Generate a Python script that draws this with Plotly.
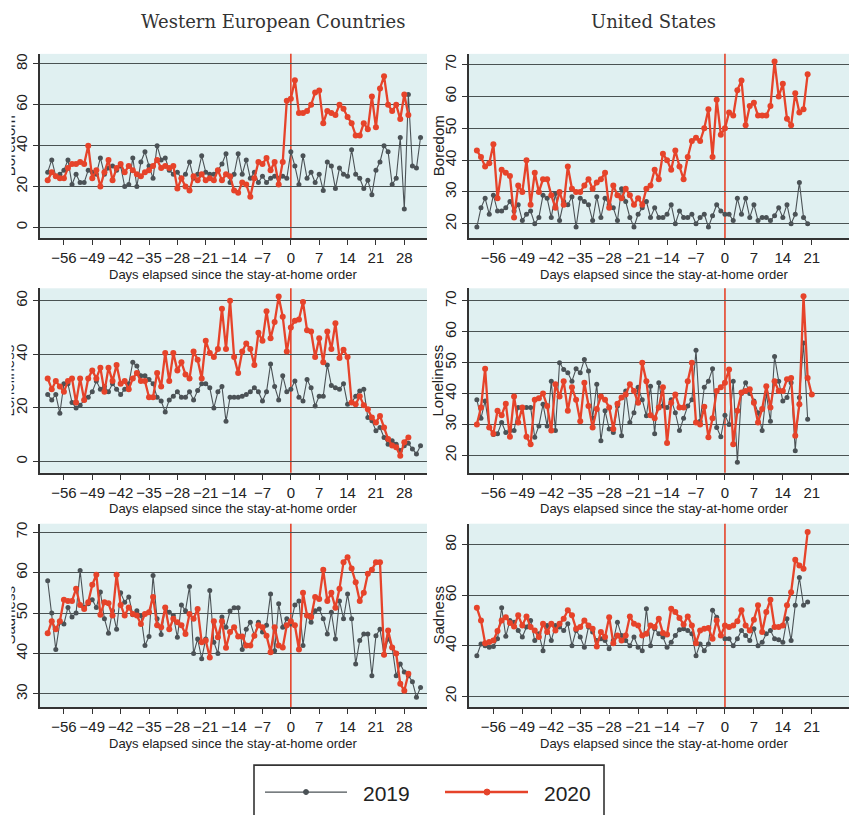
import plotly.graph_objects as go

# ---------------- data ----------------
days_we_2019 = list(range(-60, 33))
days_we_2020 = list(range(-60, 30))
days_us = list(range(-60, 21))
days_us_lonely_2020 = list(range(-60, 22))

we_boredom_2019 = [27, 33, 25, 26, 28, 33, 21, 26, 22, 22,
                   28, 27, 26, 34, 26, 29, 30, 28, 30, 20,
                   21, 34, 20, 32, 37, 30, 24, 40, 33, 34,
                   28, 26, 27, 24, 26, 32, 24, 26, 35, 27,
                   26, 26, 28, 31, 36, 22, 26, 36, 26, 33,
                   24, 27, 22, 25, 22, 24, 25, 24, 25, 24,
                   37, 30, 21, 35, 24, 27, 22, 26, 18, 32,
                   30, 19, 29, 26, 25, 38, 26, 24, 19, 23,
                   16, 28, 32, 40, 37, 21, 24, 44, 9, 65,
                   30, 29, 44]
we_boredom_2020 = [23, 27, 25, 24, 24, 29, 31, 31, 32, 31,
                   40, 24, 28, 20, 27, 33, 23, 29, 31, 27,
                   30, 28, 26, 25, 27, 28, 30, 33, 29, 30,
                   29, 30, 19, 24, 20, 18, 25, 23, 26, 23,
                   24, 23, 28, 23, 26, 25, 18, 17, 22, 21,
                   15, 24, 32, 31, 34, 28, 32, 21, 32, 62,
                   63, 72, 56, 56, 57, 60, 66, 67, 51, 57,
                   56, 55, 60, 58, 54, 51, 45, 45, 51, 48,
                   64, 49, 68, 74, 60, 57, 60, 53, 65, 55]

us_boredom_2019 = [19, 25, 28, 23, 29, 24, 24, 25, 27, 24,
                   26, 21, 23, 24, 20, 22, 29, 28, 22, 29.5,
                   21, 27, 26, 28.5, 19, 28, 27, 26, 21, 28.5,
                   22, 28, 26, 25, 21, 31, 27, 22, 19, 23,
                   25, 27, 22, 25, 22, 22, 23, 26, 20, 24,
                   22, 22, 23, 20, 22, 23, 19, 22.5, 26, 24,
                   23, 23, 21, 28, 23, 28, 22, 26, 21, 22,
                   22, 21, 22.5, 25, 22, 26, 20, 23, 33, 22,
                   20]
us_boredom_2020 = [43, 41, 38, 39, 45, 28, 37, 36, 35, 22,
                   32, 30, 40, 26, 36, 30, 34, 34, 29, 25,
                   30, 26, 38, 31, 30, 30, 32, 34, 31, 33,
                   34, 36, 25, 32, 29, 28, 31, 29, 26, 28,
                   26, 31, 32, 37, 34, 42, 40, 37, 43, 38,
                   34, 41, 46, 47, 46, 50, 56, 41, 59, 48,
                   50, 55, 54, 62, 65, 51, 57, 58, 54, 54,
                   54, 57, 71, 60, 64, 53, 51, 61, 55, 56,
                   67]

we_lonely_2019 = [25, 23, 25, 18, 29, 29, 22, 20, 21, 23,
                  24, 26, 30, 27, 28, 26, 29, 27, 25, 27,
                  29, 37, 35.6, 32, 32, 30.6, 29, 24, 22.6, 18.5,
                  23, 24.4, 26, 24, 24, 26, 23, 26.5, 29, 29,
                  27.5, 20, 26, 28, 15, 24, 24, 24, 24.4, 25,
                  26, 27.5, 26, 22.6, 26, 36.4, 28, 23, 32, 26,
                  27, 30, 24, 22.6, 30.6, 27.5, 20.7, 24.4, 24.4, 36,
                  28.4, 27.5, 27, 29, 21.4, 22, 24.4, 26.3, 27, 16.4,
                  15.2, 11.5, 12.7, 9, 6.5, 7.8, 6.5, 4.1, 5.9, 6.8,
                  4.7, 2.8, 5.9]
we_lonely_2020 = [31, 27, 30, 28, 26, 30, 31, 22, 31, 23,
                  31, 34, 31, 35, 26, 35, 30, 36, 29, 30,
                  27, 31, 33, 30, 30, 24, 24, 33, 28, 40.5,
                  30, 40.5, 34, 37, 32.5, 31, 41, 38, 31, 45,
                  40.5, 39, 42, 57, 42, 60, 39, 33, 41, 44,
                  42, 36, 48, 45, 56, 46, 52, 61.5, 54, 41,
                  50, 52.5, 53, 59.5, 49, 48.5, 39, 46, 37, 48.5,
                  42, 51.6, 38.6, 41.7, 39, 22, 21.4, 24.4, 21, 19.5,
                  16.4, 14.6, 17, 12.7, 8.4, 6, 5.3, 2.2, 7.2, 9]

us_lonely_2019 = [38, 32, 37.6, 29, 26.7, 27, 30.6, 27.4, 28, 28,
                  35.5, 35.5, 35.5, 35.5, 25.8, 29.5, 36.5, 29.5, 44, 28,
                  50, 47.8, 46.7, 44, 48, 46.7, 51, 47.3, 32, 43,
                  24.7, 34.4, 28.5, 27.4, 36, 26.3, 40.8, 30.6, 33.8, 42,
                  38, 32.8, 42.4, 27, 43.5, 36, 35.5, 38, 33.8, 28,
                  32, 36, 38, 54, 31, 42, 44, 48, 29, 26,
                  33, 30, 44, 17.7, 40, 43.5, 40, 37.6, 33.8, 28,
                  40, 31, 52, 44, 37.6, 38.7, 43.5, 21.5, 38.7, 56.4,
                  31.7]
us_lonely_2020 = [30, 35.5, 48, 29, 27, 34.4, 33, 36.7, 26, 39,
                  30.6, 35.5, 26, 23.6, 38, 38.5, 40, 36, 28, 43,
                  39, 44, 34.4, 42, 38, 31, 43.5, 36, 29, 35,
                  39, 38, 35.5, 28.5, 36.7, 38.7, 39.7, 43, 40.8, 37,
                  50, 44, 33, 32, 35.5, 42, 24, 37, 39.7, 35.5,
                  35.5, 44, 50, 30.6, 30, 35.7, 25.8, 32, 40.8, 42,
                  43.5, 47.8, 23.6, 34.4, 40.3, 40.8, 41.4, 37, 30.6, 35,
                  42.4, 35.5, 44, 40.8, 40.8, 44.6, 45, 26.3, 36.5, 71.5,
                  45, 39.7]

we_sad_2019 = [58, 50, 41, 47.7, 47.3, 51.4, 49, 50, 60.5, 51.4,
               52.3, 53.3, 51.4, 55.2, 48.6, 45, 50.6, 46, 55, 52.7,
               54, 49.6, 50.6, 49.4, 42, 44.2, 59.3, 48.6, 44.7, 51.4,
               50.2, 49.4, 44, 52, 50.6, 56.6, 40, 43.6, 38.7, 43.6,
               55.6, 42.8, 40, 49, 46.5, 50.5, 51.3, 51.3, 41, 46,
               47.7, 44.4, 47.7, 45.3, 47, 54.7, 40.7, 52.3, 46.5, 48.6,
               47.3, 52, 53, 42, 49.4, 47.7, 50.6, 51, 48.6, 44.8,
               50.2, 43.6, 53, 48.6, 54.7, 48.6, 37.4, 43.2, 44.8, 44.8,
               34.5, 44.4, 46, 39.7, 43.6, 41.5, 34.5, 37.4, 35.4, 34.5,
               33, 29.2, 31.6]
we_sad_2020 = [45, 48, 46, 48, 53.3, 53, 53, 56, 52, 51,
               52.7, 57, 59.5, 49.6, 52.7, 52.4, 49.4, 59.5, 52, 49.4,
               51.4, 49.8, 49.4, 47.3, 49.8, 50.2, 54, 47, 46.5, 51.4,
               46, 48.6, 47.7, 47, 44.8, 49.8, 48.6, 51, 42.8, 43.2,
               39, 48, 44, 48, 41.4, 45.3, 46.5, 44.2, 44.2, 42,
               42, 44.4, 47, 46.5, 44.4, 40.3, 46.5, 42, 41.5, 47,
               48, 47, 41, 55, 49.4, 49, 54, 53.5, 60.7, 53,
               55, 51.3, 56, 62.6, 63.8, 61, 57.6, 53, 55, 59.7,
               60.7, 62.6, 62.6, 39.7, 45.7, 41.5, 40, 32.5, 30.8, 35]

us_sad_2019 = [36, 40.7, 40, 39.4, 39.7, 42.7, 55, 43.7, 50, 49.3,
               46, 43.4, 47.4, 50, 42, 44.7, 38, 48, 42, 48,
               47.4, 46, 48.7, 40, 46, 43.4, 39.4, 47.4, 45.4, 42,
               42.7, 42, 38.8, 42, 49.3, 44, 42, 40, 43.4, 39.4,
               38, 54.6, 40, 46.7, 44.7, 43.4, 39.4, 41.4, 44, 46.3,
               46.7, 46, 44.7, 36, 40.7, 38, 40.7, 54, 51.3, 44,
               42.7, 42.7, 40, 42.7, 46, 44, 42, 46.7, 40, 41.4,
               44.7, 46, 42.7, 42.3, 41.4, 50.7, 42, 56, 67, 56,
               57.3]
us_sad_2020 = [55, 50, 41, 41.5, 42, 45.8, 50, 51.3, 49, 47.6,
               52, 48, 51.6, 47.4, 46, 43.4, 48.7, 45.4, 48.7, 46,
               48.7, 50.7, 54, 52, 46.7, 47.4, 50, 48, 46.7, 39.7,
               45.4, 43.4, 51.3, 41, 44, 42, 44, 51.6, 48.7, 48,
               44, 44.7, 48, 47.4, 50.7, 45, 44.4, 54.6, 53.3, 51,
               48.4, 51.6, 48, 41, 46, 46.7, 47, 42.7, 50, 44,
               48, 47.4, 48, 49.7, 54, 48, 46, 50.3, 56, 45.4,
               53.3, 58.2, 47.4, 47.4, 48, 56, 61.2, 74, 71.8, 70.5,
               85]

x_ticks_we = [-56, -49, -42, -35, -28, -21, -14, -7, 0, 7, 14, 21, 28]
x_ticks_us = [-56, -49, -42, -35, -28, -21, -14, -7, 0, 7, 14, 21]
col_titles = ["Western European Countries", "United States"]
y_titles = ["Boredom", "Loneliness", "Sadness"]
x_title = "Days elapsed since the stay-at-home order"
legend_labels = ["2019", "2020"]

# ---------------- styling / layout ----------------
W, H = 849, 815
RED = "#e6432a"
GRAY = "#4b5256"
BG = "#e0f0f1"
GRID = "#4a5353"
AXC = "#333333"
SANS = "Liberation Sans, Arial, sans-serif"


def px(x):
    return x / W


def py(y):
    return 1 - y / H


col_x = [(40, 427), (469, 849)]
row_y = [(52, 237), (287, 472), (523, 707)]
x_ranges = [[-61.9, 33.6], [-61.9, 30.0]]

panels = [
    # row, col, days2019, vals2019, days2020, vals2020, yrange, yticks
    (0, 0, days_we_2019, we_boredom_2019, days_we_2020, we_boredom_2020, [-5.4, 84.9], [0, 20, 40, 60, 80]),
    (0, 1, days_us, us_boredom_2019, days_us, us_boredom_2020, [15.4, 73.4], [20, 30, 40, 50, 60, 70]),
    (1, 0, days_we_2019, we_lonely_2019, days_we_2020, we_lonely_2020, [-4.2, 64.6], [0, 20, 40, 60]),
    (1, 1, days_us, us_lonely_2019, days_us_lonely_2020, us_lonely_2020, [14.3, 74.1], [20, 30, 40, 50, 60, 70]),
    (2, 0, days_we_2019, we_sad_2019, days_we_2020, we_sad_2020, [26.7, 72.1], [30, 40, 50, 60, 70]),
    (2, 1, days_us, us_sad_2019, days_us, us_sad_2020, [15.6, 88.3], [20, 40, 60, 80]),
]

fig = go.Figure()
layout = dict(
    width=W, height=H,
    margin=dict(l=0, r=0, t=0, b=0),
    paper_bgcolor="white", plot_bgcolor=BG,
    showlegend=False,
)
annotations = []
shapes = []
covers = []

for i, (r, c, d19, v19, d20, v20, yr, yt) in enumerate(panels):
    n = i + 1
    xa = "x" if n == 1 else f"x{n}"
    ya = "y" if n == 1 else f"y{n}"
    xkey = "xaxis" if n == 1 else f"xaxis{n}"
    ykey = "yaxis" if n == 1 else f"yaxis{n}"
    x0, x1 = col_x[c]
    y0, y1 = row_y[r]
    layout[xkey] = dict(
        domain=[px(x0), px(x1)], range=x_ranges[c], anchor=ya,
        tickvals=x_ticks_we if c == 0 else x_ticks_us, tickangle=0,
        ticks="outside", ticklen=5, tickwidth=1.2, tickcolor=AXC,
        showline=True, linecolor=AXC, linewidth=1.6,
        showgrid=False, zeroline=False,
        tickfont=dict(family=SANS, size=15, color="#222"),
    )
    layout[ykey] = dict(
        domain=[py(y1), py(y0)], range=yr, anchor=xa,
        tickvals=yt, tickangle=-90,
        ticks="outside", ticklen=5, tickwidth=1.2, tickcolor=AXC,
        showline=True, linecolor=AXC, linewidth=1.6,
        showgrid=True, gridcolor=GRID, gridwidth=1.3, zeroline=False,
        tickfont=dict(family=SANS, size=15, color="#222"),
    )
    fig.add_trace(go.Scatter(
        x=d19, y=v19, xaxis=xa, yaxis=ya, mode="lines+markers", name="2019",
        line=dict(color=GRAY, width=1.1), marker=dict(color=GRAY, size=5),
    ))
    fig.add_trace(go.Scatter(
        x=d20, y=v20, xaxis=xa, yaxis=ya, mode="lines+markers", name="2020",
        line=dict(color=RED, width=2.3), marker=dict(color=RED, size=6),
    ))
    # stay-at-home order reference line at day 0
    shapes.append(dict(type="line", xref=xa, yref=f"{ya} domain", x0=0, x1=0, y0=0, y1=1,
                       line=dict(color=RED, width=1.6), layer="below"))
    # x axis title
    annotations.append(dict(text=x_title, xref="paper", yref="paper",
                            x=px((x0 + x1) / 2 if c == 0 else 664), y=py(y1 + 36),
                            xanchor="center", yanchor="middle", showarrow=False,
                            font=dict(family=SANS, size=13, color="#222")))
    # y axis title
    annotations.append(dict(text=y_titles[r], xref="paper", yref="paper",
                            x=px(x0 - 31), y=py((y0 + y1) / 2), textangle=-90,
                            xanchor="center", yanchor="middle", showarrow=False,
                            font=dict(family=SANS, size=15, color="#222")))
    if c == 0:
        # the reference image is cropped through the left-column y titles
        covers.append(dict(text=" ", xref="paper", yref="paper", x=0, y=py((y0 + y1) / 2),
                           xanchor="left", yanchor="middle", showarrow=False,
                           width=10, height=120, bgcolor="white", borderpad=0,
                           font=dict(size=2)))

# column titles
annotations.append(dict(text=col_titles[0], xref="paper", yref="paper", x=px(273), y=py(20),
                        xanchor="center", yanchor="middle", showarrow=False,
                        font=dict(family="DejaVu Serif", size=18, color="#333")))
annotations.append(dict(text=col_titles[1], xref="paper", yref="paper", x=px(653), y=py(20),
                        xanchor="center", yanchor="middle", showarrow=False,
                        font=dict(family="DejaVu Serif", size=18, color="#333")))

# legend box (drawn as layout decoration)
shapes.append(dict(type="rect", xref="paper", yref="paper", x0=px(254), x1=px(604), y0=py(830), y1=py(765),
                   line=dict(color="#333", width=1.6), fillcolor="white", layer="above"))
shapes.append(dict(type="line", xref="paper", yref="paper", x0=px(265), x1=px(347), y0=py(792), y1=py(792),
                   line=dict(color=GRAY, width=1.3), layer="above"))
shapes.append(dict(type="circle", xref="paper", yref="paper", x0=px(303.5), x1=px(308.5), y0=py(794.5), y1=py(789.5),
                   line=dict(color=GRAY, width=1), fillcolor=GRAY, layer="above"))
shapes.append(dict(type="line", xref="paper", yref="paper", x0=px(445), x1=px(528), y0=py(792), y1=py(792),
                   line=dict(color=RED, width=2.4), layer="above"))
shapes.append(dict(type="circle", xref="paper", yref="paper", x0=px(484), x1=px(490), y0=py(795), y1=py(789),
                   line=dict(color=RED, width=1), fillcolor=RED, layer="above"))
annotations.append(dict(text=legend_labels[0], xref="paper", yref="paper", x=px(361), y=py(793),
                        xanchor="left", yanchor="middle", showarrow=False,
                        font=dict(family=SANS, size=21, color="#222")))
annotations.append(dict(text=legend_labels[1], xref="paper", yref="paper", x=px(542), y=py(793),
                        xanchor="left", yanchor="middle", showarrow=False,
                        font=dict(family=SANS, size=21, color="#222")))

layout["annotations"] = annotations + covers
layout["shapes"] = shapes
fig.update_layout(**layout)
fig.write_html("out.html", config={"displayModeBar": False},
               post_script="document.body.style.margin='0';document.body.style.padding='0';")
